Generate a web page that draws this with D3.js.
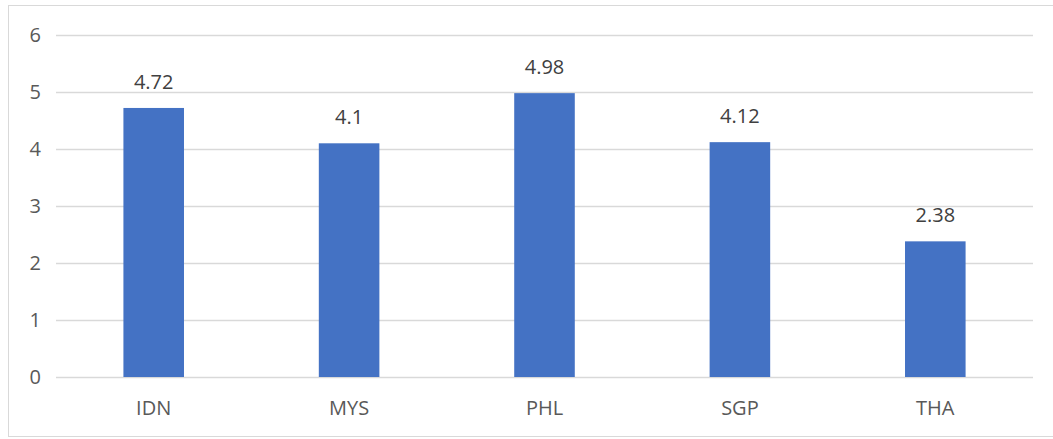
<!DOCTYPE html>
<html>
<head>
<meta charset="utf-8">
<script src="https://cdn.jsdelivr.net/npm/d3@7"></script>
<style>
  body { margin: 0; background: #fff; }
  svg text { font-family: "Open Sans", "Noto Sans", sans-serif; fill: #595959; }
</style>
</head>
<body>
<svg id="chart" width="1053" height="439"></svg>
<script>
const categories = ['IDN', 'MYS', 'PHL', 'SGP', 'THA'];
const values = [4.72, 4.1, 4.98, 4.12, 2.38];
const yTicks = [0, 1, 2, 3, 4, 5, 6];

const svg = d3.select('#chart');
const margin = {left: 56, right: 20, top: 35, bottom: 62};
const width = 1053, height = 439;

// outer frame
svg.append('rect')
  .attr('x', 8.5).attr('y', 5.5)
  .attr('width', 1060).attr('height', 431)
  .attr('fill', 'none')
  .attr('stroke', '#d9d9d9');

const x = d3.scaleBand()
  .domain(categories)
  .range([margin.left, width - margin.right])
  .paddingInner(0.69)
  .paddingOuter(0.345);

const y = d3.scaleLinear()
  .domain([0, 6])
  .range([height - margin.bottom, margin.top]);

// gridlines
svg.append('g')
  .selectAll('line')
  .data(yTicks)
  .enter()
  .append('line')
  .attr('x1', margin.left)
  .attr('x2', width - margin.right)
  .attr('y1', d => Math.round(y(d)) + 0.5)
  .attr('y2', d => Math.round(y(d)) + 0.5)
  .attr('stroke', '#d9d9d9')
  .attr('stroke-width', 1.5);

// y tick labels
svg.append('g')
  .selectAll('text')
  .data(yTicks)
  .enter()
  .append('text')
  .attr('x', 41)
  .attr('y', d => y(d))
  .attr('dy', '0.35em')
  .attr('text-anchor', 'end')
  .attr('font-size', 20)
  .text(d => d);

// bars
svg.append('g')
  .selectAll('rect')
  .data(values)
  .enter()
  .append('rect')
  .attr('x', (d, i) => x(categories[i]))
  .attr('y', d => y(d))
  .attr('width', x.bandwidth())
  .attr('height', d => y(0) - y(d))
  .attr('fill', '#4472C4');

// value labels
svg.append('g')
  .selectAll('text')
  .data(values)
  .enter()
  .append('text')
  .attr('x', (d, i) => x(categories[i]) + x.bandwidth() / 2)
  .attr('y', d => y(d) - 26)
  .attr('dy', '0.35em')
  .attr('text-anchor', 'middle')
  .attr('font-size', 20)
  .style('fill', '#404040')
  .text(d => d);

// category labels
svg.append('g')
  .selectAll('text')
  .data(categories)
  .enter()
  .append('text')
  .attr('x', d => x(d) + x.bandwidth() / 2)
  .attr('y', y(0) + 31)
  .attr('dy', '0.35em')
  .attr('text-anchor', 'middle')
  .attr('font-size', 20)
  .text(d => d);
</script>
</body>
</html>
